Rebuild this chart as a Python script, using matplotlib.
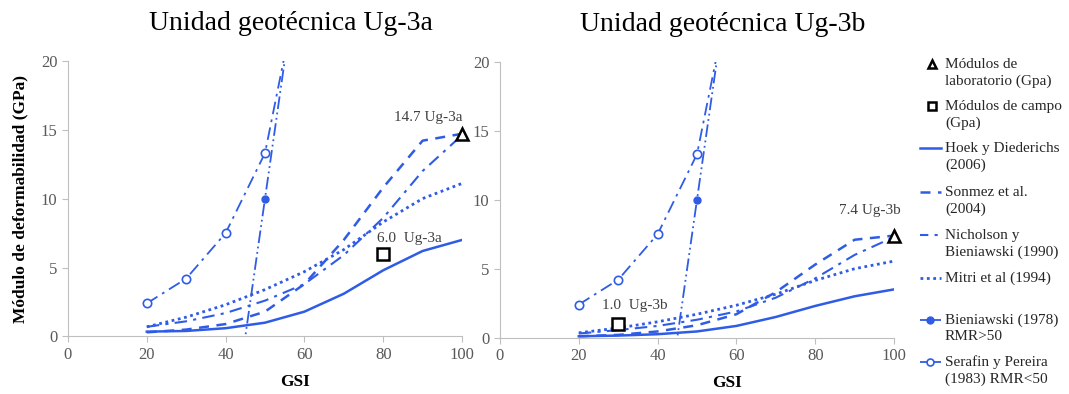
import matplotlib.pyplot as plt
import numpy as np

plt.rcParams['font.family'] = ['Liberation Serif', 'DejaVu Serif']

BLUE = '#2f5ce6'
GREY = '#595959'

# GSI axis values for the empirical curves
gsi = [20, 30, 40, 50, 60, 70, 80, 90, 100]

# Ug-3a
hoek_a = [0.35, 0.4, 0.6, 1.0, 1.8, 3.1, 4.8, 6.2, 7.0]
sonmez_a = [0.3, 0.5, 0.9, 1.8, 3.8, 7.0, 10.8, 14.2, 14.7]
nichol_a = [0.7, 1.1, 1.7, 2.6, 3.8, 5.9, 8.6, 12.0, 14.6]
mitri_a = [0.7, 1.4, 2.3, 3.4, 4.7, 6.3, 8.3, 10.0, 11.1]

# Ug-3b
hoek_b = [0.1, 0.15, 0.25, 0.45, 0.85, 1.5, 2.3, 3.0, 3.5]
sonmez_b = [0.1, 0.2, 0.45, 0.9, 1.7, 3.3, 5.3, 7.1, 7.4]
nichol_b = [0.3, 0.55, 0.85, 1.3, 1.9, 2.9, 4.3, 6.0, 7.3]
mitri_b = [0.35, 0.7, 1.15, 1.7, 2.35, 3.15, 4.15, 5.0, 5.55]

# Bieniawski (1978) RMR>50 and Serafin y Pereira (1983) RMR<50
bien_x = [44.5, 50, 55.5]
bien_y = [-1.0, 10.0, 21.0]
sera_x = [20, 30, 40, 50, 55]
sera_y = [2.4, 4.2, 7.5, 13.3, 20.4]

# measured moduli: (GSI, E)
lab_a, field_a = (100, 14.7), (80, 6.0)
lab_b, field_b = (100, 7.4), (30, 1.0)

titles = ['Unidad geotécnica Ug-3a', 'Unidad geotécnica Ug-3b']

fig = plt.figure(figsize=(10.69, 3.94), dpi=100)
axes = [fig.add_axes([0.0636, 0.146, 0.3686, 0.70]),
        fig.add_axes([0.4677, 0.143, 0.3686, 0.70])]

datasets = [(hoek_a, sonmez_a, nichol_a, mitri_a, lab_a, field_a,
             ('14.7 Ug-3a', 91.5, 15.9, 'center'), ('6.0  Ug-3a', 78.4, 7.1, 'left')),
            (hoek_b, sonmez_b, nichol_b, mitri_b, lab_b, field_b,
             ('7.4 Ug-3b', 86, 9.2, 'left'), ('1.0  Ug-3b', 25.8, 2.3, 'left'))]

for i, (ax, d) in enumerate(zip(axes, datasets)):
    hoek, sonmez, nichol, mitri, lab, field, t1, t2 = d
    ax.plot(gsi, hoek, color=BLUE, lw=1.8, ls='-')
    ax.plot(gsi, sonmez, color=BLUE, lw=1.8, ls=(0, (4, 3)))
    ax.plot(gsi, nichol, color=BLUE, lw=1.5, ls=(0, (6, 3, 1.5, 3)))
    ax.plot(gsi, mitri, color=BLUE, lw=2.0, ls=(0, (1, 1.3)))
    ax.plot(bien_x, bien_y, color=BLUE, lw=1.3, ls=(0, (7, 2, 1, 2, 1, 2)),
            marker='o', ms=5, markevery=[1])
    ax.plot(sera_x, sera_y, color=BLUE, lw=1.3, ls=(0, (7, 3, 1.5, 3)),
            marker='o', ms=6, mfc='white', mec=BLUE, mew=1.2,
            markevery=[0, 1, 2, 3])
    ax.plot(*lab, marker='^', ms=8, mfc='white', mec='black', mew=1.8,
            ls='none', clip_on=False, zorder=5)
    ax.plot(*field, marker='s', ms=8, mfc='white', mec='black', mew=1.8,
            ls='none', clip_on=False, zorder=5)
    for txt, x, y, ha in (t1, t2):
        ax.text(x, y, txt, ha=ha, va='center', fontsize=11, color='#404040')

    ax.set_xlim(0, 100)
    ax.set_ylim(0, 20)
    ax.set_xticks(range(0, 101, 20))
    ax.set_yticks(range(0, 21, 5))
    for s in ['top', 'right']:
        ax.spines[s].set_visible(False)
    for s in ['left', 'bottom']:
        ax.spines[s].set_color('#bfbfbf')
    ax.tick_params(colors='#bfbfbf', labelcolor=GREY, labelsize=12, length=4)
    ax.set_title(titles[i], fontsize=20, x=0.565, pad=22)
    ax.set_xlabel('GSI', fontsize=12.5, fontweight='bold')
    ax.xaxis.set_label_coords(0.575, -0.135)
    if i == 0:
        ax.set_ylabel('Módulo de deformabilidad (GPa)', fontsize=12.5,
                      fontweight='bold')
        ax.yaxis.set_label_coords(-0.10, 0.5)

# legend drawn by hand so the symbol sits beside the first text line
lax = fig.add_axes([0, 0, 1, 1])
lax.set_xlim(0, 1069)
lax.set_ylim(394, 0)
lax.axis('off')

leg_labels = [['Módulos de', 'laboratorio (Gpa)'],
              ['Módulos de campo', '(Gpa)'],
              ['Hoek y Diederichs', '(2006)'],
              ['Sonmez et al.', '(2004)'],
              ['Nicholson y', 'Bieniawski (1990)'],
              ['Mitri et al (1994)'],
              ['Bieniawski (1978)', 'RMR>50'],
              ['Serafin y Pereira', '(1983) RMR<50']]
leg_y = [64, 106, 148, 192, 235, 278, 320, 362]
hx0, hx1, tx = 920, 941, 945

for labels, y in zip(leg_labels, leg_y):
    for k, line in enumerate(labels):
        lax.text(tx, y + k * 17, line, fontsize=11, va='center', ha='left',
                 color='#262626')

lax.plot(932, leg_y[0], marker='^', ms=6, mfc='white', mec='black', mew=1.8)
lax.plot(932, leg_y[1], marker='s', ms=6, mfc='white', mec='black', mew=1.8)
lax.plot([hx0, hx1], [leg_y[2]] * 2, color=BLUE, lw=1.8)
lax.plot([hx0, hx1], [leg_y[3]] * 2, color=BLUE, lw=1.8, ls=(0, (4, 3)))
lax.plot([hx0, hx1], [leg_y[4]] * 2, color=BLUE, lw=1.5, ls=(0, (4, 3, 1.5, 3)))
lax.plot([hx0, hx1], [leg_y[5]] * 2, color=BLUE, lw=2.0, ls=(0, (1, 1.3)))
lax.plot([hx0, hx1], [leg_y[6]] * 2, color=BLUE, lw=1.3, ls=(0, (12, 3, 1, 3)))
lax.plot([hx0 + 10], [leg_y[6]], color=BLUE, marker='o', ms=5)
lax.plot([hx0, hx1], [leg_y[7]] * 2, color=BLUE, lw=1.3, ls=(0, (12, 3, 4, 3)))
lax.plot([hx0 + 10], [leg_y[7]], color=BLUE, marker='o', ms=5, mfc='white',
         mec=BLUE, mew=1.2)

fig.savefig('out.png', dpi=100)
